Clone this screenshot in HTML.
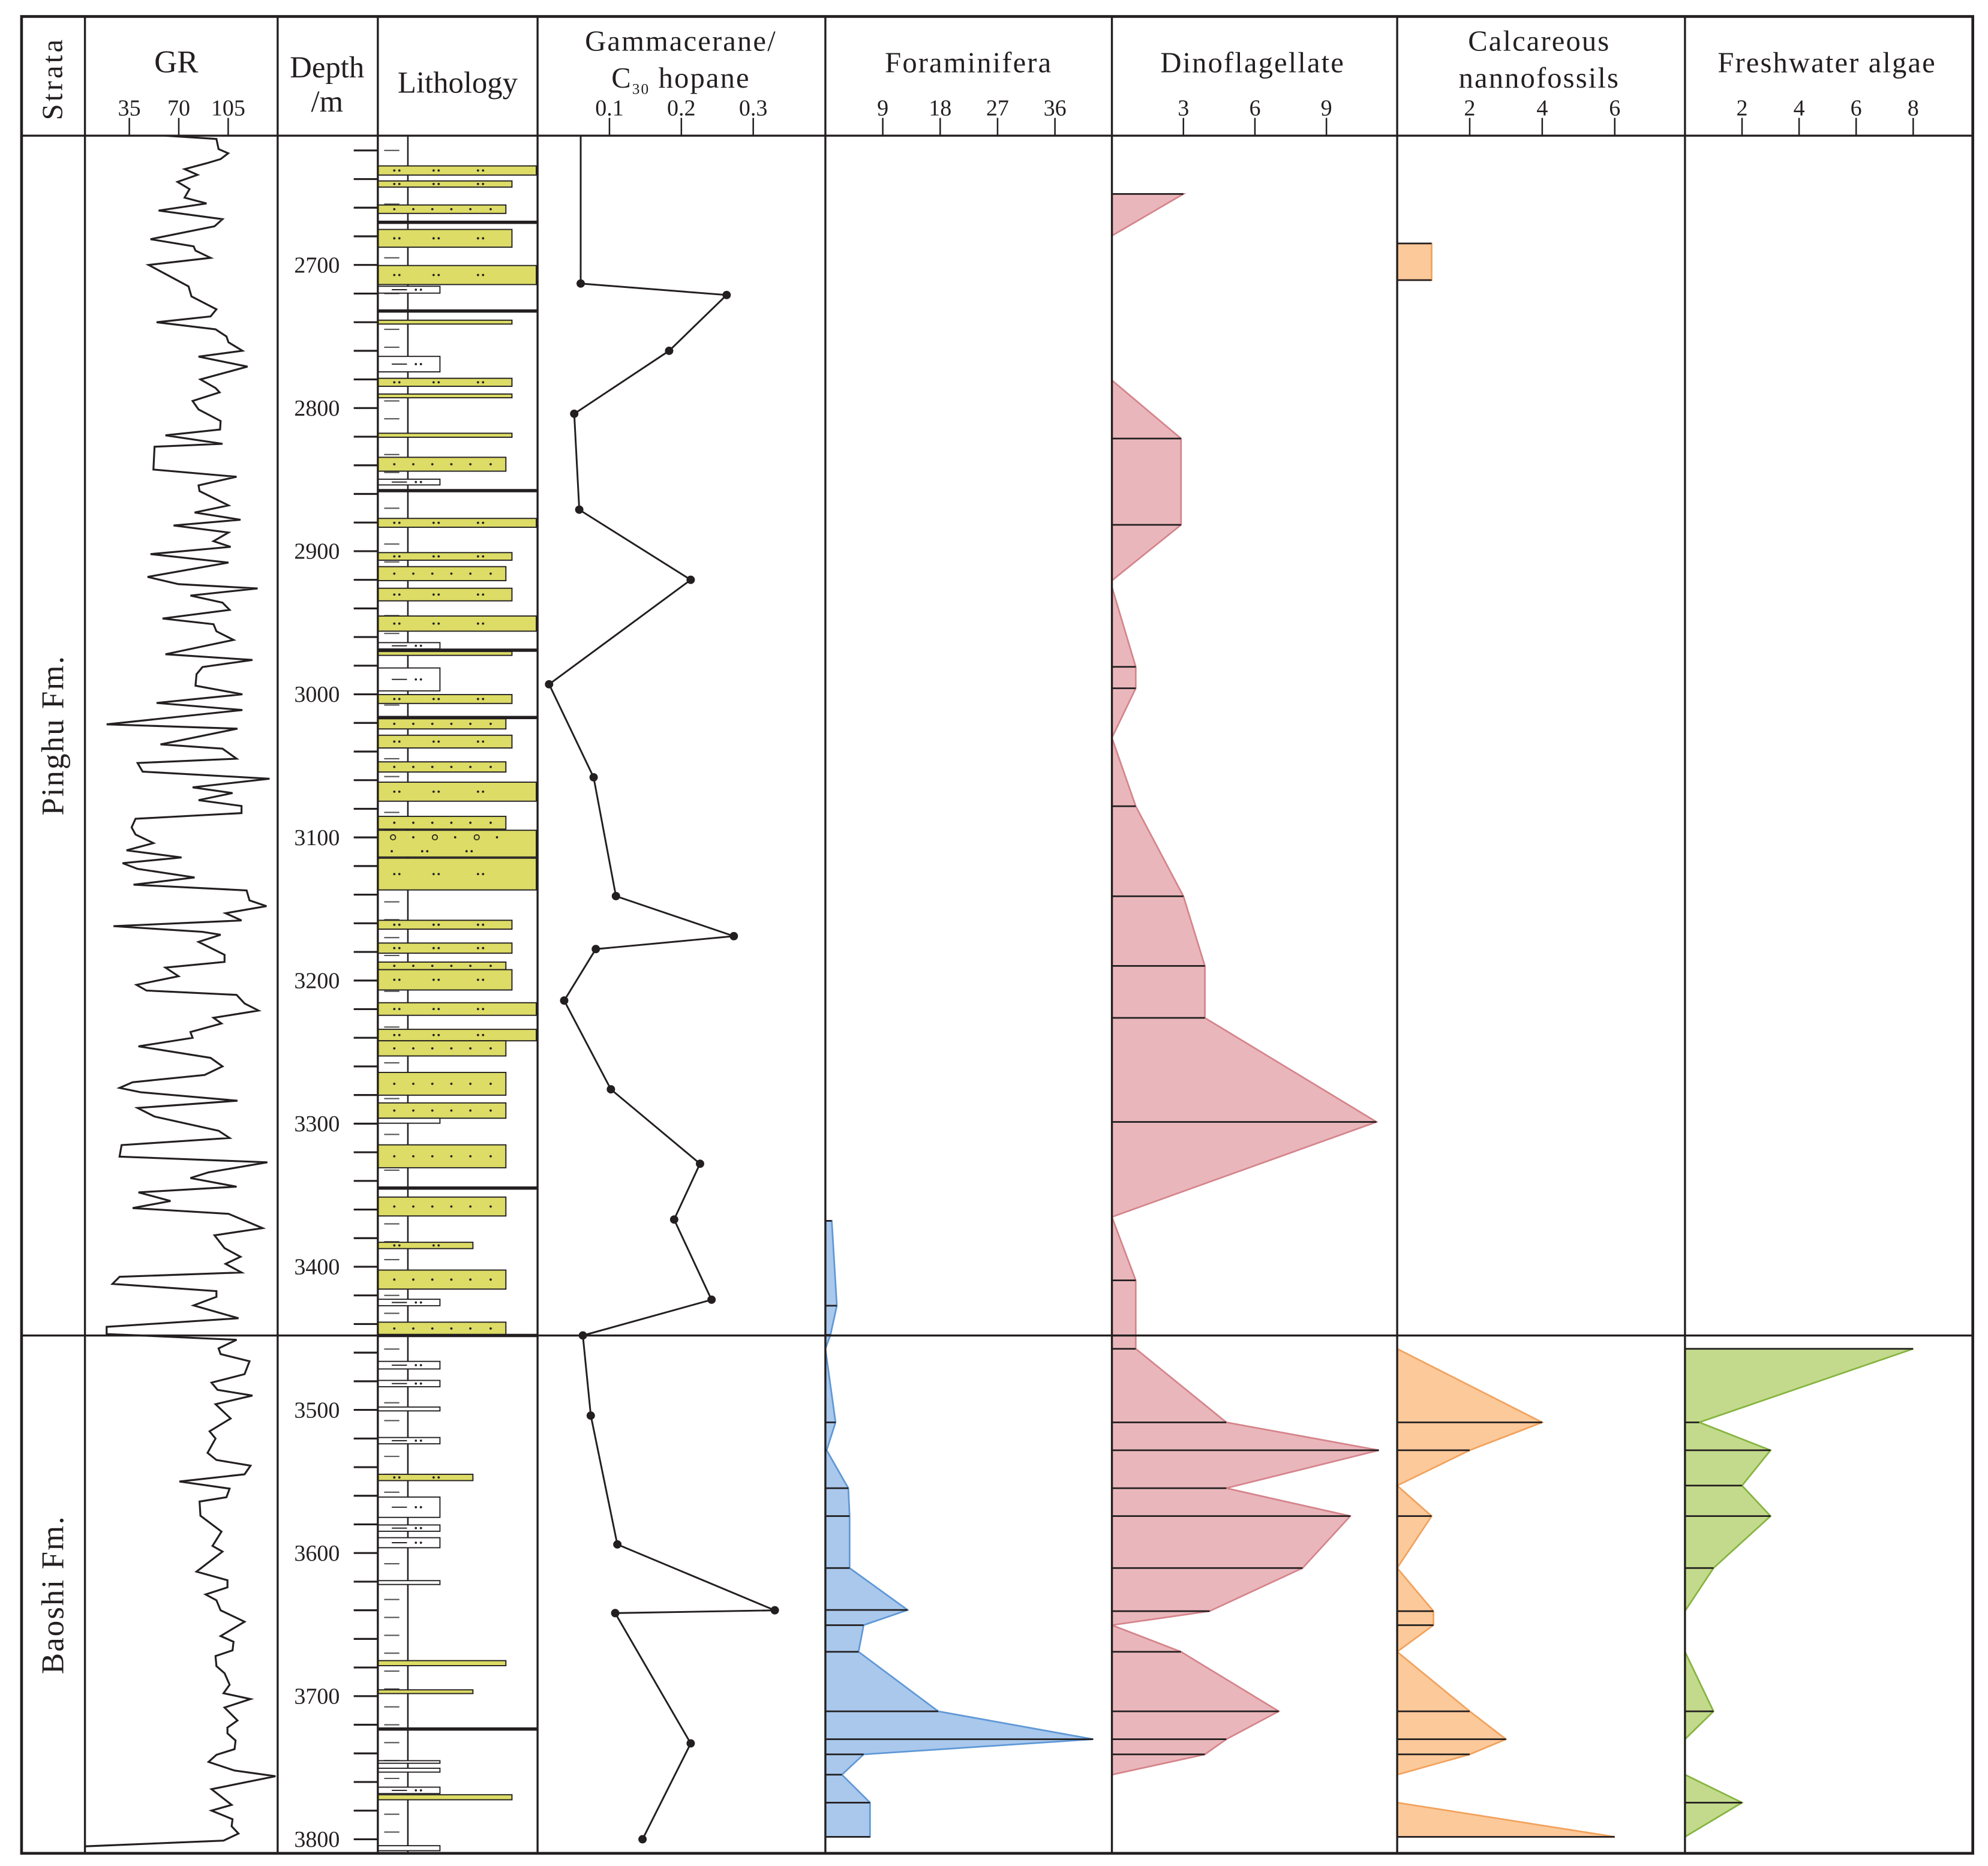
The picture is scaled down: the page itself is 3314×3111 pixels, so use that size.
<!DOCTYPE html>
<html><head><meta charset="utf-8">
<style>
html,body{margin:0;padding:0;background:#fff;}
svg{display:block;}
text{font-family:"Liberation Serif",serif;fill:#231f20;}
</style></head>
<body>
<svg id="chart" xmlns="http://www.w3.org/2000/svg" width="3314" height="3111" viewBox="0 0 1568 1472" preserveAspectRatio="none">
<rect x="0" y="0" width="1568" height="1472" fill="#fff"/>
<g id="layer-fills"></g>
<g id="layer-lith"></g>
<g id="layer-lines"></g>
<g id="layer-frame"></g>
<g id="layer-text"></g>
</svg>
<script>
// ---------- data ----------
const grDepth = [2612,2619,2622,2626,2629,2633,2637,2642,2647,2653,2657,2662,2668,2673,2682,2687,2690,2695,2700,2715,2722,2731,2736,2740,2745,2750,2754,2760,2764,2771,2780,2786,2789,2795,2801,2809,2815,2819,2825,2827,2843,2848,2854,2858,2868,2873,2878,2882,2887,2893,2897,2902,2908,2918,2923,2926,2931,2936,2941,2947,2951,2956,2962,2972,2976,2981,2986,2994,3000,3006,3011,3021,3024,
3035,3038,3045,3048,3054,3059,3065,3069,3074,3078,3083,3087,3093,3098,3104,3109,3114,3118,3122,3128,3133,3137,3144,3148,3153,3158,3162,3166,3168,3173,3182,3187,3191,3197,3203,3207,3210,3216,3221,3226,3230,3236,3240,3246,3254,3260,3266,3271,3275,3278,3284,3289,3295,3305,3310,3315,3323,3327,3334,3338,3344,3348,3354,3359,3363,3373,3378,3387,3393,3398,3404,3407,3412,3417,3421,3427,3436,3442,3447,
3448,3451,3457,3461,3466,3475,3481,3486,3490,3496,3506,3515,3520,3530,3535,3539,3545,3550,3555,3561,3564,3574,3585,3595,3599,3613,3619,3624,3629,3633,3640,3648,3658,3662,3668,3672,3679,3684,3692,3698,3702,3708,3717,3722,3726,3731,3737,3741,3746,3752,3756,3765,3776,3780,3786,3791,3796,3801,3805];
const grValue = [96.7,98.2,105,99.6,89.7,74.1,83.3,69.1,77.6,74.1,89.7,55.7,101,95.3,50,80.5,81.9,92.5,48.6,76.9,79,96.7,92.5,54.3,96,103.8,105.2,115.1,84,118.7,85.4,96,98.9,79.8,84,99.6,99.3,60.6,101,52.9,52.1,110.9,84,84.7,105.2,81.2,113.7,66.3,105.2,94.6,106.7,50,105.2,47.9,69.8,125.8,78.3,101,106,58.5,94.6,96.7,108.8,60.6,122.2,86.8,82.6,81.9,115.1,54.3,115.1,18.9,111.6,
57.1,101,110.9,40.8,44.4,134.3,79.8,108.1,84,114.4,114.4,39.4,36.6,39.4,52.1,33,72,30.2,40.8,81.2,38,118,120.1,132.1,103.1,114.4,23.8,86.8,99.6,84,102.4,102.4,60.6,69.8,40.1,47.2,110.9,116.6,126.5,94.6,100.3,78.3,79.8,41.5,92.5,101,88.3,37.3,28.1,42.9,111.6,40.8,52.9,98.2,106,29.5,28.1,132.8,91.1,78.3,110.9,41.5,64.2,37.3,105.2,129.3,95.3,102.4,113.7,103.1,114.4,28.1,23.1,96.7,96.7,80.5,112.3,18.9,18.9,
43,110.9,98.2,99.6,120.1,116.6,93.2,97.5,122.2,96,106.7,91.8,96,90.4,96.7,120.8,116.6,70.5,106,103.8,84.7,85.4,100.3,93.9,101,82.6,104.5,104.5,89,96.7,99.6,116.6,99.6,108.8,108.1,96,96.7,102.4,106,101.7,120.8,102.4,111.6,104.5,104.5,110.2,109.5,96.7,91.1,109.5,138.5,93.2,107.4,93.2,108.1,107.4,112.3,101.7,3.3];
const grTicks = [35,70,105];

const gamDepth = [2713,2721,2760,2804,2871,2920,2993,3058,3141,3169,3178,3214,3276,3328,3367,3423,3448,3504,3594,3640,3642,3733,3800];
const gamValue = [0.06,0.263,0.183,0.051,0.058,0.213,0.016,0.078,0.109,0.273,0.081,0.037,0.102,0.226,0.19,0.242,0.063,0.074,0.111,0.33,0.108,0.213,0.146];
const gamTicks = [0.1,0.2,0.3];

const forDepth = [3367.9,3427.2,3447.6,3457.3,3508.7,3528.2,3554.7,3574.2,3610.5,3639.8,3650.4,3669,3710.6,3730.1,3740.7,3754.9,3774.4,3798.3];
const forValue = [1,1.8,0.8,0,1.6,0.2,3.6,3.8,3.8,12.9,6,5.2,17.7,42,6,2.6,7,7];
const forTicks = [9,18,27,36];

const dinoDepth = [2650.4,2679.6,null,2780.6,2821.3,2881.6,2920.5,null,2925,2980.8,2995.8,3030.4,null,3030.4,3078.2,3141.1,3189.8,3226.1,3298.8,3365.2,null,3365.2,3409.5,3457.3,3508.7,3528.2,3554.7,3574.2,3610.5,3640.6,3650.4,null,3650.4,3669,3710.6,3730.1,3740.7,3754.9];
const dinoValue = [3,0,null,0,2.9,2.9,0,null,0,1,1,0,null,0,1,3,3.9,3.9,11.1,0,null,0,1,1,4.8,11.2,4.8,10,8,4.1,0,null,0,2.9,7,4.8,3.9,0];
const dinoTicks = [3,6,9];

const calcDepth = [2685,2685,2710.6,2710.6,null,3457.3,3508.7,3528.2,3552.9,3574.2,3610.5,3640.6,3650.4,3669,3710.6,3730.1,3740.7,3754.9,null,3774.4,3798.3,3798.3];
const calcValue = [0,0.95,0.95,0,null,0,4,2,0,0.95,0,1,1,0,2,3,2,0,null,0,6,0];
const calcTicks = [2,4,6];

const fwDepth = [3457.3,3457.3,3508.7,3528.2,3552.9,3574.2,3610.5,3640.6,null,3669,3710.6,3730.1,null,3754.9,3774.4,3798.3];
const fwValue = [0,8,0.5,3,2,3,1,0,null,0,1,0,null,0,2,0];
const fwTicks = [2,4,6,8];

const depthLabels = [2700,2800,2900,3000,3100,3200,3300,3400,3500,3600,3700,3800];

const bedTop = [2630.8,2641.3,2658.1,2675.2,2700.4,2714.9,2738.6,2763.9,2779.2,2790.2,2817.6,2834.4,2849.7,2877.1,2901,2910.8,2925.9,2945.3,2963.9,2970.1,2981.6,3000.2,3017.1,3028.6,3047.2,3061.4,3085.3,3095,3114.5,3157.9,3173.8,3187.1,3192.4,3215.5,3234.1,3242.1,3264.2,3285.5,3296.2,3314.8,3351.3,3382.9,3402.3,3422.7,3438.7,3466.1,3479.4,3498,3519.3,3545,3560.9,3580.4,3589.3,3619.3,3675.2,3695.6,3745.1,3750.4,3763.6,3768.9,3804.5];
const bedBot = [2637.2,2645.6,2664,2687.6,2713.7,2719.7,2741.3,2774.7,2784.8,2792.8,2820.4,2844.1,2853.7,2883.3,2906.3,2920.6,2934.7,2955.9,2968.3,2972.8,2997.6,3006.4,3024.2,3037.5,3054.3,3074.7,3094.2,3113.7,3136.7,3164.1,3180.9,3192.4,3206.6,3224.3,3242.1,3252.7,3280.1,3296.2,3299.7,3330.8,3364.5,3387.3,3415.6,3427.2,3447.6,3471.4,3483.8,3500.7,3523.7,3549.4,3575.1,3584.8,3596.3,3622,3678.7,3698.2,3746.9,3753.1,3768.1,3772.4,3808];
const bedKind = ["f","c","m","c","f","w","c","w","c","c","c","m","w","f","c","m","c","f","w","c","w","c","m","c","m","f","m","g","f","c","c","m","c","f","f","m","m","m","w","m","m","s","m","w","m","w","w","w","w","s","w","w","w","w","m","s","w","w","w","c","w"];
const thickLines = [2670.2,2732.2,2857.7,2969.2,3016.2,3345,3448,3723];

// ---------- scales ----------
const yD = d => 209 + (d - 2700) * 1.129;
const xGR = v => 102 + (v - 35) * 1.114;
const xGam = v => 424 + v * 567;
const xFor = v => 651 + v * 5.03;
const xDino = v => 877 + v * 18.8;
const xCalc = v => 1102 + v * 28.6;
const xFw = v => 1329 + v * 22.5;

const NS = "http://www.w3.org/2000/svg";
function mk(tag, attrs, parent) {
  const e = document.createElementNS(NS, tag);
  for (const k in attrs) e.setAttribute(k, attrs[k]);
  parent.appendChild(e);
  return e;
}
const gF = document.getElementById('layer-fills');
const gL = document.getElementById('layer-lith');
const gLn = document.getElementById('layer-lines');
const gFr = document.getElementById('layer-frame');
const gT = document.getElementById('layer-text');

// ---------- fossil area series ----------
function areaSeries(depths, vals, xs, x0, fill, stroke, name) {
  let seg = [];
  const segs = [];
  for (let i = 0; i <= depths.length; i++) {
    if (i === depths.length || depths[i] === null) { if (seg.length) segs.push(seg); seg = []; }
    else seg.push([depths[i], vals[i]]);
  }
  segs.forEach((s) => {
    let pts = [[x0, yD(s[0][0])]];
    s.forEach(p => pts.push([xs(p[1]), yD(p[0])]));
    pts.push([x0, yD(s[s.length - 1][0])]);
    const poly = mk('polygon', {points: pts.map(p => p.join(',')).join(' '), fill: fill, stroke: stroke, 'stroke-width': 1.3}, gF);
    
    
    s.forEach(p => {
      if (p[1] > 0) {
        const ln = mk('line', {x1: x0, x2: xs(p[1]), y1: yD(p[0]), y2: yD(p[0]), stroke: '#231f20', 'stroke-width': 1.3}, gLn);
        
        
      }
    });
  });
}
areaSeries(forDepth, forValue, xFor, 651, '#a9c8ec', '#5f98d6', 'foraminifera');
areaSeries(dinoDepth, dinoValue, xDino, 877, '#e9b7bb', '#d6848b', 'dinoflagellate');
areaSeries(calcDepth, calcValue, xCalc, 1102, '#fcc99a', '#f2a25c', 'calcareous-nannofossils');
areaSeries(fwDepth, fwValue, xFw, 1329, '#c3da8c', '#86b43e', 'freshwater-algae');

// ---------- lithology ----------
mk('line', {x1: 321.7, x2: 321.7, y1: 107, y2: 1462, stroke: '#231f20', 'stroke-width': 1.2}, gL);
for (let d = 2620; d < 3810; d += 12.5) {
  const y = yD(d);
  const m = mk('line', {x1: 303, x2: 315, y1: y, y2: y, stroke: '#555', 'stroke-width': 1}, gL);
  
  
}
const bedRight = {f: 423, g: 423, c: 403.8, m: 399, s: 373, w: 347};
bedTop.forEach((t, i) => {
  const k = bedKind[i];
  const y1 = yD(t), y2 = yD(bedBot[i]);
  const right = bedRight[k];
  const r = mk('rect', {x: 298, y: y1, width: right - 298, height: Math.max(2, y2 - y1), fill: k === 'w' ? '#fff' : '#dcdc66', stroke: '#231f20', 'stroke-width': 0.9}, gL);
  
  
  const ym = (y1 + y2) / 2;
  const dot = x => { if (x < right - 3) mk('circle', {cx: x, cy: ym, r: 0.9, fill: '#231f20'}, gL); };
  if (y2 - y1 >= 4) {
    if (k === 'w') {
      mk('line', {x1: 309, x2: 321, y1: ym, y2: ym, stroke: '#231f20', 'stroke-width': 0.9}, gL);
      [328, 332].forEach(dot);
    } else if (k === 'm') {
      [311, 326, 341, 356, 371, 387].forEach(dot);
    } else if (k === 'g') {
      [310, 343, 376].forEach(x => mk('circle', {cx: x, cy: ym - 5, r: 2, fill: 'none', stroke: '#231f20', 'stroke-width': 0.8}, gL));
      [326, 359, 392].forEach(x => mk('circle', {cx: x, cy: ym - 5, r: 0.9, fill: '#231f20'}, gL));
      [309, 333, 337, 368, 372].forEach(x => mk('circle', {cx: x, cy: ym + 6, r: 0.9, fill: '#231f20'}, gL));
    } else {
      [311, 315, 342, 346, 377, 381].forEach(dot);
    }
  }
});
thickLines.forEach(d => {
  const l = mk('line', {x1: 298, x2: 424, y1: yD(d), y2: yD(d), stroke: '#231f20', 'stroke-width': 2.6}, gL);
  
  
});

// ---------- GR curve ----------
let grPts = grDepth.map((d, i) => xGR(grValue[i]).toFixed(1) + ',' + yD(d).toFixed(1));
grPts.unshift(xGR(60) + ',' + 107);
const grLine = mk('polyline', {points: grPts.join(' '), fill: 'none', stroke: '#231f20', 'stroke-width': 1.5}, gLn);



// ---------- Gammacerane ----------
let gPts = [xGam(0.06) + ',' + 107].concat(gamDepth.map((d, i) => xGam(gamValue[i]).toFixed(1) + ',' + yD(d).toFixed(1)));
const gLine = mk('polyline', {points: gPts.join(' '), fill: 'none', stroke: '#231f20', 'stroke-width': 1.4}, gLn);


gamDepth.forEach((d, i) => {
  const c = mk('circle', {cx: xGam(gamValue[i]), cy: yD(d), r: 3.3, fill: '#231f20'}, gLn);
  
  
});

// ---------- depth ticks ----------
for (let d = 2620; d <= 3800; d += 20) {
  const t = mk('line', {x1: 279, x2: 298, y1: yD(d), y2: yD(d), stroke: '#231f20', 'stroke-width': 1.5}, gFr);
  
  
}
depthLabels.forEach(d => {
  const t = mk('text', {x: 268, y: yD(d) + 6, 'font-size': 18, 'text-anchor': 'end'}, gT);
  t.textContent = d;
  
  
});

// ---------- frame ----------
const frameV = [67, 219, 298, 424, 651, 877, 1102, 1329];
mk('rect', {x: 17, y: 13, width: 1539, height: 1449, fill: 'none', stroke: '#231f20', 'stroke-width': 2.2}, gFr);
frameV.forEach(x => mk('line', {x1: x, x2: x, y1: 13, y2: 1462, stroke: '#231f20', 'stroke-width': 1.6}, gFr));
mk('line', {x1: 17, x2: 1556, y1: 107, y2: 107, stroke: '#231f20', 'stroke-width': 1.6}, gFr);
const fb = mk('line', {x1: 17, x2: 1556, y1: yD(3448), y2: yD(3448), stroke: '#231f20', 'stroke-width': 1.6}, gFr);



// ---------- header ticks ----------
function hTicks(ticks, xs, name) {
  ticks.forEach(v => {
    const x = xs(v);
    const l = mk('line', {x1: x, x2: x, y1: 93, y2: 107, stroke: '#231f20', 'stroke-width': 1.2}, gFr);
    
    
    const t = mk('text', {x: x, y: 91, 'font-size': 18, 'text-anchor': 'middle'}, gT);
    t.textContent = v;
    
    
  });
}
hTicks(grTicks, xGR, 'gr');
hTicks(gamTicks, xGam, 'gammacerane');
hTicks(forTicks, xFor, 'foraminifera');
hTicks(dinoTicks, xDino, 'dinoflagellate');
hTicks(calcTicks, xCalc, 'calcareous');
hTicks(fwTicks, xFw, 'freshwater');

// static header titles
gT.insertAdjacentHTML('beforeend',
  '<text x="0" y="0" font-size="23" letter-spacing="2" text-anchor="middle" transform="translate(49,62) rotate(-90)">Strata</text>' +
  '<text x="139" y="57" font-size="25" text-anchor="middle">GR</text>' +
  '<text x="258" y="61" font-size="24" text-anchor="middle">Depth</text>' +
  '<text x="258" y="88" font-size="24" text-anchor="middle">/m</text>' +
  '<text x="361" y="73" font-size="24" text-anchor="middle">Lithology</text>' +
  '<text x="537" y="40" font-size="23" letter-spacing="1" text-anchor="middle">Gammacerane/</text>' +
  '<text x="537" y="69" font-size="23" letter-spacing="1" text-anchor="middle">C<tspan font-size="12" dy="5">30</tspan><tspan dy="-5"> hopane</tspan></text>' +
  '<text x="764" y="57" font-size="23" letter-spacing="1" text-anchor="middle">Foraminifera</text>' +
  '<text x="988" y="57" font-size="23" letter-spacing="1" text-anchor="middle">Dinoflagellate</text>' +
  '<text x="1214" y="40" font-size="23" letter-spacing="1" text-anchor="middle">Calcareous</text>' +
  '<text x="1214" y="69" font-size="23" letter-spacing="1" text-anchor="middle">nannofossils</text>' +
  '<text x="1441" y="57" font-size="23" letter-spacing="1" text-anchor="middle">Freshwater algae</text>' +
  '<text x="0" y="0" font-size="25" letter-spacing="1" text-anchor="middle" transform="translate(50,580) rotate(-90)">Pinghu Fm.</text>' +
  '<text x="0" y="0" font-size="25" letter-spacing="1" text-anchor="middle" transform="translate(50,1258) rotate(-90)">Baoshi Fm.</text>');
</script>
</body></html>
